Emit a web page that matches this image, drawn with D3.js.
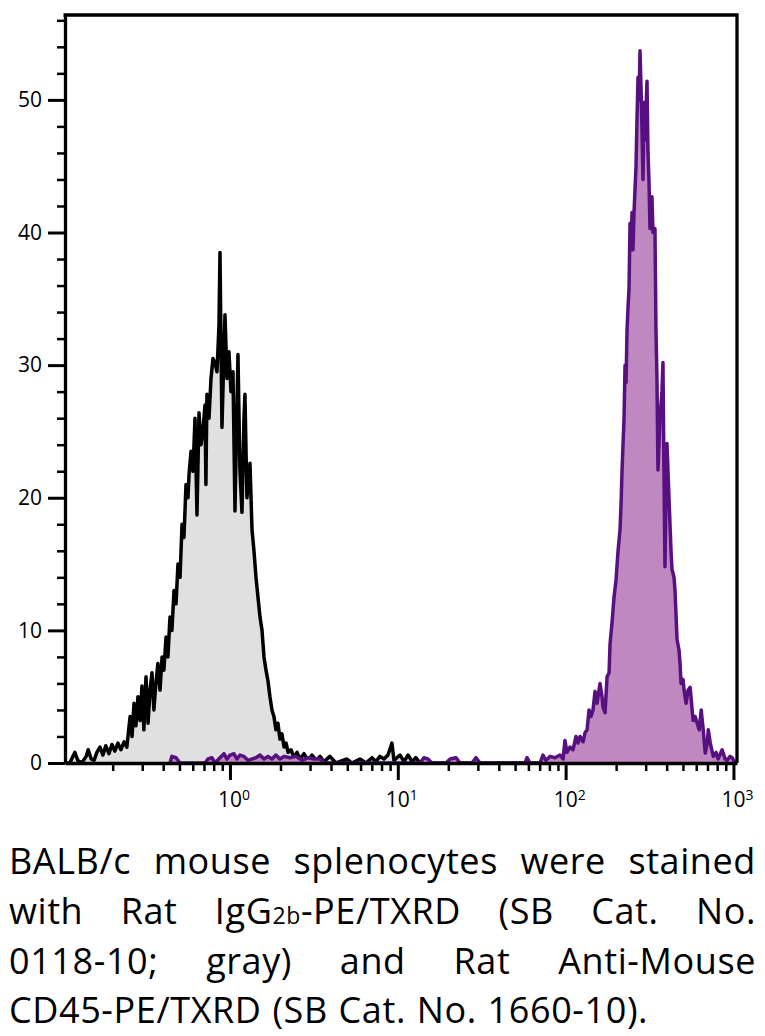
<!DOCTYPE html>
<html>
<head>
<meta charset="utf-8">
<script src="https://cdn.jsdelivr.net/npm/d3@7/dist/d3.min.js"></script>
<style>
  html, body { margin: 0; padding: 0; background: #fff; }
  svg { display: block; }
  text { font-family: "Open Sans", "Noto Sans", sans-serif; }
</style>
</head>
<body>
<svg id="chart" width="765" height="1036"></svg>
<script>
// ---------- data ----------
// x: fluorescence intensity (log scale), y: count
const isotypeGray = [
  [0.105,0],[0.111,0],[0.119,0.8],[0.124,0.2],[0.131,0],[0.139,0.5],[0.143,1.0],[0.149,0.3],[0.155,0.2],[0.161,0.8],
  [0.168,1.2],[0.175,0.6],[0.182,1.3],[0.190,0.7],[0.198,1.4],[0.206,0.9],[0.215,1.5],[0.224,1.0],[0.234,1.6],[0.243,1.2],
  [0.254,3.5],[0.261,2.0],[0.268,4.5],[0.275,2.8],[0.283,5.0],[0.291,3.2],[0.299,5.8],[0.307,2.5],[0.316,6.5],[0.325,3.0],
  [0.334,5.5],[0.343,6.8],[0.352,4.0],[0.362,6.0],[0.372,7.5],[0.383,5.5],[0.394,8.0],[0.404,7.0],[0.416,9.5],[0.427,8.0],
  [0.439,11],[0.451,10],[0.464,13],[0.477,12],[0.490,15],[0.504,14],[0.518,18],[0.532,17],[0.547,21],[0.562,20],
  [0.570,21.7],[0.586,23.5],[0.602,22],[0.619,26],[0.636,18.7],[0.654,26.4],[0.672,24],[0.690,25],[0.710,27],[0.719,21],
  [0.729,27.8],[0.750,26],[0.771,29],[0.792,30.5],[0.814,30.2],[0.837,29.5],[0.860,33],[0.872,38.5],[0.896,25.3],[0.921,31],
  [0.934,33.8],[0.960,29],[0.986,31],[1.014,28],[1.042,29.5],[1.071,19],[1.101,27],[1.116,30.8],[1.147,22],[1.179,18.9],
  [1.212,26],[1.228,27.8],[1.262,20],[1.316,22.6],[1.353,17.6],[1.390,16],[1.429,14],[1.469,12.5],[1.510,11],[1.552,10],
  [1.595,8],[1.639,7],[1.684,6.2],[1.731,5.0],[1.779,4.0],[1.828,3.5],[1.879,2.5],[1.931,3.0],[1.985,1.8],[2.04,2.2],
  [2.10,1.2],[2.16,1.5],[2.22,0.8],[2.31,1.0],[2.41,0.4],[2.51,0.8],[2.61,0.3],[2.76,0.7],[2.92,0.2],[3.08,0.6],
  [3.26,0.2],[3.44,0.5],[3.63,0.1],[3.94,0.5],[4.28,0],[4.98,0.3],[5.33,0],[5.95,0.3],[6.46,0],[7.02,0.4],
  [7.41,0.1],[7.83,0.5],[8.27,0.3],[8.74,0.6],[9.23,1.5],[9.49,0.2],[10.3,0.6],[10.9,0.1],[11.5,0.6],[12.2,0.1],
  [12.8,0.4],[13.6,0],[17.8,0],[955,0]
];

const cd45Purple = [
  [0.439,0],[0.451,0.5],[0.477,0.4],[0.504,0],[0.710,0],[0.739,0.3],[0.781,0.4],[0.814,0],[0.872,0.4],[0.921,0.7],
  [0.960,0.3],[1.0,0.6],[1.056,0.7],[1.101,0.3],[1.147,0.6],[1.212,0.5],[1.280,0.2],[1.429,0.4],[1.510,0.6],[1.595,0.3],
  [1.684,0.5],[1.779,0.3],[1.879,0.6],[1.985,0.3],[2.10,0.5],[2.28,0.4],[2.47,0.5],[2.69,0.2],[2.92,0.4],[3.17,0.3],
  [3.44,0.3],[3.68,0],[13.6,0],[14.3,0.4],[15.1,0.3],[16.0,0],[19.4,0],[20.5,0.3],[22.2,0.4],[23.5,0],
  [27.7,0],[29.2,0.4],[30.9,0],[57.3,0],[58.9,0.4],[61.4,0],[70.4,0],[73.3,0.6],[76.4,0.2],[80.7,0.5],
  [86.5,0.4],[92.6,0.6],[96.6,0.3],[99.1,1.7],[101.9,0.8],[106.1,1.2],[110.7,1.0],[115.3,2.0],[118.6,1.5],[121.9,2.0],
  [127.1,1.6],[130.6,2.3],[134.3,2.5],[137.9,4.0],[141.7,3.5],[145.6,4.0],[149.7,5.4],[153.9,4.5],[160.3,6.0],[164.8,5.0],
  [167.1,4.2],[171.8,3.8],[176.6,6.5],[181.5,6.8],[184.0,9],[189.1,10.6],[194.3,12.5],[199.7,13.8],[205.3,16],[211.0,17.6],
  [213.9,19.5],[216.9,22.1],[222.9,26],[226.0,30],[229.1,28.7],[232.3,32.7],[235.5,34.4],[238.7,35.8],[242.0,40.7],[245.3,38.7],
  [248.7,41.5],[252.1,38.7],[255.6,41.5],[262.7,45],[266.3,48.6],[270.0,51.7],[273.7,50],[277.5,53.7],[281.3,51],[285.2,47.7],
  [289.1,44],[293.1,49.8],[297.1,47],[305.4,51.4],[309.6,46],[313.8,44],[318.1,40.3],[327.0,42.7],[331.5,40],[340.7,40.3],
  [345.4,32.7],[350.2,28.9],[355.0,22.1],[365.0,26],[375.0,28],[380.2,30.2],[385.5,22],[390.8,14.8],[396.2,20],[401.7,24.1],
  [413.0,20],[424.6,16],[430.4,14.6],[442.5,14],[448.6,13],[461.2,9.3],[474.1,8.5],[480.6,7.5],[487.3,6.0],[500.9,6.3],
  [507.9,5.5],[522.1,4.5],[536.8,5.5],[551.9,5.7],[567.4,4],[575.2,3.2],[591.4,3.5],[608.0,3.0],[625.0,2.5],[642.6,4.0],
  [660.6,2.5],[679.2,0.75],[698.2,1.5],[707.9,2.5],[727.8,1.5],[758,0.5],[788,0.8],[810,0.3],[856,1.0],[892,0.3],
  [916,0.2],[955,0.5],[982,0.4],[1024,0]
];

const yTickLabels = [0, 10, 20, 30, 40, 50];
const yMinorTicks = [2,4,6,8,12,14,16,18,22,24,26,28,32,34,36,38,42,44,46,48,52,54,56];
const xMajorTicks = [1, 10, 100, 1000];
const xExponentLabels = ["0", "1", "2", "3"];
const xMinorTicks = [0.2,0.3,0.4,0.5,0.6,0.7,0.8,0.9,2,3,4,5,6,7,8,9,20,30,40,50,60,70,80,90,200,300,400,500,600,700,800,900];

const captionLines = [
  [["BALB/c"], ["mouse"], ["splenocytes"], ["were"], ["stained"]],
  [["with"], ["Rat"], ["IgG", {sub: "2b"}, "-PE/TXRD"], ["(SB"], ["Cat."], ["No."]],
  [["0118-10;"], ["gray)"], ["and"], ["Rat"], ["Anti-Mouse"]],
  [["CD45-PE/TXRD"], ["(SB"], ["Cat."], ["No."], ["1660-10)."]]
];

// ---------- layout ----------
const svg = d3.select("#chart");
const plotL = 65, plotR = 737, plotT = 15, plotB = 763;

const x = d3.scaleLog().domain([0.104, 1050]).range([plotL, plotR]);
const y = d3.scaleLinear().domain([0, 56.4]).range([plotB, plotT]);

const area = d3.area().x(d => x(d[0])).y0(y(0)).y1(d => y(d[1]));
const line = d3.line().x(d => x(d[0])).y(d => y(d[1]));

// gray isotype
svg.append("path").datum(isotypeGray).attr("d", area).attr("fill", "#e0e0e0");
svg.append("path").datum(isotypeGray).attr("d", line)
  .attr("fill", "none").attr("stroke", "#000").attr("stroke-width", 3.5).attr("stroke-linejoin", "round");

// purple CD45
svg.append("path").datum(cd45Purple).attr("d", area).attr("fill", "#c088c0");
svg.append("path").datum(cd45Purple).attr("d", line)
  .attr("fill", "none").attr("stroke", "#57107f").attr("stroke-width", 3.5).attr("stroke-linejoin", "round");

// frame (top + right)
svg.append("path").attr("d", `M${plotL - 1.5},${plotT} H${plotR} V${plotB}`)
  .attr("fill", "none").attr("stroke", "#000").attr("stroke-width", 3.3);

// y axis
const yAxisMajor = svg.append("g").attr("transform", `translate(${plotL},0)`)
  .call(d3.axisLeft(y).tickValues(yTickLabels).tickSize(17).tickPadding(6).tickSizeOuter(0));
yAxisMajor.select(".domain").attr("stroke-width", 3.3);
yAxisMajor.selectAll(".tick line").attr("stroke-width", 3);
yAxisMajor.selectAll(".tick text").attr("font-size", 21).attr("fill", "#000");

const yAxisMinor = svg.append("g").attr("transform", `translate(${plotL},0)`)
  .call(d3.axisLeft(y).tickValues(yMinorTicks).tickSize(8).tickFormat("").tickSizeOuter(0));
yAxisMinor.select(".domain").remove();
yAxisMinor.selectAll(".tick line").attr("stroke-width", 2.5);

// x axis
const xAxisMajor = svg.append("g").attr("transform", `translate(0,${plotB})`)
  .call(d3.axisBottom(x).tickValues(xMajorTicks).tickSize(17).tickPadding(12).tickSizeOuter(0).tickFormat(() => ""));
xAxisMajor.select(".domain").attr("stroke-width", 3.3);
xAxisMajor.selectAll(".tick line").attr("stroke-width", 3);
xAxisMajor.selectAll(".tick text").each(function(d, i) {
  const t = d3.select(this).attr("font-size", 21).attr("fill", "#000");
  t.text(null);
  t.append("tspan").text("10");
  t.append("tspan").attr("font-size", 14).attr("dy", "-0.5em").text(xExponentLabels[i]);
  t.attr("dx", "0.17em");
});

const xAxisMinor = svg.append("g").attr("transform", `translate(0,${plotB})`)
  .call(d3.axisBottom(x).tickValues(xMinorTicks).tickSize(8).tickFormat(() => "").tickSizeOuter(0));
xAxisMinor.select(".domain").remove();
xAxisMinor.selectAll(".tick line").attr("stroke-width", 2.5);

// ---------- caption (justified) ----------
const capLeft = 9, capRight = 756, capSize = 36;
const baselines = [874, 924, 974, 1023];
captionLines.forEach((words, li) => {
  const g = svg.append("g");
  const nodes = words.map(parts => {
    const t = g.append("text").attr("y", baselines[li]).attr("font-size", capSize)
      .attr("letter-spacing", "0.6px").attr("fill", "#000");
    parts.forEach(p => {
      if (typeof p === "string") t.append("tspan").text(p);
      else t.append("tspan").attr("font-size", 23).text(p.sub);
    });
    return t;
  });
  const widths = nodes.map(n => n.node().getComputedTextLength());
  const total = d3.sum(widths);
  const isLast = li === captionLines.length - 1;
  const gap = isLast ? capSize * 0.3 : (capRight - capLeft - total) / (nodes.length - 1);
  let cx = capLeft;
  nodes.forEach((n, i) => { n.attr("x", cx); cx += widths[i] + gap; });
});
</script>
</body>
</html>
